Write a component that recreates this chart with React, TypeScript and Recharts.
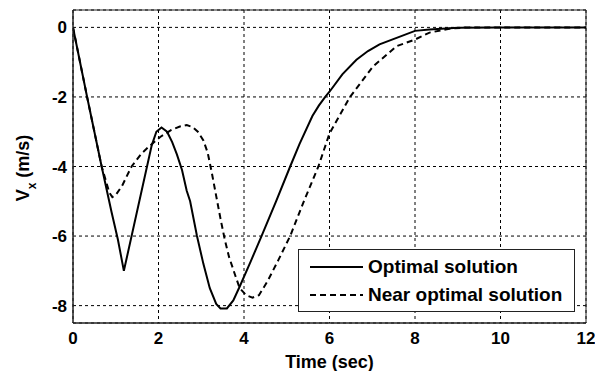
import React from 'react';
import { LineChart, Line, XAxis, YAxis, CartesianGrid, Legend, ReferenceArea, Label } from 'recharts';

const FONT = '"Liberation Sans", Arial, sans-serif';

const timeOptimal = [0, 0.33, 0.67, 0.9, 1.05, 1.19, 1.84, 1.95, 2.07, 2.2, 2.32, 2.43, 2.55, 2.66, 2.74, 2.9, 3.05, 3.2, 3.35, 3.45, 3.6, 3.75, 3.9, 4.15, 4.41, 4.75, 5.08, 5.3, 5.6, 5.75, 5.9, 6.0, 6.3, 6.63, 6.9, 7.17, 7.57, 8.0, 8.34, 9.0, 10, 12];
const vxOptimal = [0, -2, -4, -5.3, -6.1, -7.0, -3.4, -3.0, -2.88, -3.0, -3.3, -3.65, -4.1, -4.7, -5.0, -6.0, -6.8, -7.5, -7.95, -8.08, -8.08, -7.85, -7.45, -6.75, -6, -5, -4, -3.35, -2.55, -2.25, -2, -1.85, -1.35, -0.93, -0.68, -0.49, -0.3, -0.1, -0.06, -0.01, 0, 0];

const timeNear = [0, 0.33, 0.67, 0.85, 0.92, 1.0, 1.15, 1.37, 1.6, 1.8, 2.04, 2.3, 2.5, 2.66, 2.8, 2.92, 3.05, 3.15, 3.25, 3.35, 3.45, 3.55, 3.65, 3.8, 3.9, 4.05, 4.2, 4.35, 4.55, 4.8, 5.08, 5.4, 5.74, 6.0, 6.48, 7.02, 7.57, 8.0, 8.34, 8.8, 9.2, 12];
const vxNear = [0, -2, -4, -4.75, -4.88, -4.82, -4.55, -4.0, -3.63, -3.4, -3.15, -2.95, -2.85, -2.81, -2.87, -3.0, -3.25, -3.6, -4.2, -4.85, -5.5, -6.1, -6.6, -7.15, -7.5, -7.7, -7.77, -7.7, -7.3, -6.7, -6, -5, -4, -3.05, -2, -1.12, -0.54, -0.35, -0.15, -0.04, 0, 0];

const xTicks = [0, 2, 4, 6, 8, 10, 12];
const yTicks = [0, -2, -4, -6, -8];
const seriesNames = ['Optimal solution', 'Near optimal solution'];

const optimalData = timeOptimal.map((t, i) => ({ t, v: vxOptimal[i] }));
const nearData = timeNear.map((t, i) => ({ t, v: vxNear[i] }));

const tickStyle = { fontSize: 17, fontWeight: 'bold', fill: '#000', fontFamily: FONT };

const LegendBox = () => (
  <div
    style={{
      width: 277,
      height: 63,
      boxSizing: 'border-box',
      border: '1px solid #222',
      background: '#fff',
      paddingTop: 3,
      fontFamily: FONT,
      fontWeight: 'bold',
      fontSize: 19,
      color: '#000',
    }}
  >
    {seriesNames.map((name, i) => (
      <div key={name} style={{ height: 28, display: 'flex', alignItems: 'center' }}>
        <svg width={58} height={10} style={{ marginLeft: 11, flex: 'none' }}>
          <line
            x1={0}
            y1={5}
            x2={53}
            y2={5}
            stroke="#000"
            strokeWidth={2}
            strokeDasharray={i === 1 ? '6 4' : undefined}
          />
        </svg>
        <span style={{ whiteSpace: 'nowrap' }}>{name}</span>
      </div>
    ))}
  </div>
);

const YLabel = (props: any) => {
  const vb = props.viewBox || { x: 0, y: 10, width: 73, height: 313 };
  const cx = vb.x + 28.5;
  const cy = vb.y + vb.height / 2 + 1.5;
  return (
    <text
      transform={`translate(${cx},${cy}) rotate(-90)`}
      textAnchor="middle"
      fontFamily={FONT}
      fontWeight="bold"
      fontSize={18}
      fill="#000"
    >
      V
      <tspan fontSize={12} dy={7}>x</tspan>
      <tspan dy={-7}> (m/s)</tspan>
    </text>
  );
};

export default function App() {
  return (
    <div style={{ position: 'absolute', left: 0, top: 0, width: 595, height: 371, background: '#fff' }}>
      <LineChart width={595} height={371} margin={{ top: 10, right: 9, bottom: 0, left: 0 }}>
        <CartesianGrid stroke="#000" strokeDasharray="3 3" strokeWidth={1} />
        <XAxis
          dataKey="t"
          type="number"
          domain={[0, 12]}
          ticks={xTicks}
          allowDataOverflow
          height={48}
          tickLine={false}
          tickSize={0}
          tickMargin={9}
          axisLine={{ stroke: '#222' }}
          tick={tickStyle}
          interval={0}
        >
          <Label
            value="Time (sec)"
            position="insideBottom"
            offset={3}
            style={{ fontSize: 18, fontWeight: 'bold', fill: '#000', fontFamily: FONT }}
          />
        </XAxis>
        <YAxis
          dataKey="v"
          type="number"
          domain={[-8.5, 0.5]}
          ticks={yTicks}
          allowDataOverflow
          width={73}
          tickLine={false}
          tickSize={0}
          tickMargin={6}
          axisLine={{ stroke: '#222' }}
          tick={tickStyle}
          interval={0}
          label={<YLabel />}
        />
        <ReferenceArea x1={0} x2={12} y1={-8.5} y2={0.5} fill="none" stroke="#222" strokeWidth={1} ifOverflow="visible" />
        <Line
          data={optimalData}
          dataKey="v"
          name={seriesNames[0]}
          type="linear"
          stroke="#000"
          strokeWidth={2}
          dot={false}
          isAnimationActive={false}
        />
        <Line
          data={nearData}
          dataKey="v"
          name={seriesNames[1]}
          type="linear"
          stroke="#000"
          strokeWidth={2}
          strokeDasharray="6 4"
          dot={false}
          isAnimationActive={false}
        />
        <Legend
          layout="vertical"
          align="center"
          verticalAlign="middle"
          content={<LegendBox />}
          wrapperStyle={{ left: 298, top: 249, width: 277, height: 63, margin: 0, padding: 0 }}
        />
      </LineChart>
    </div>
  );
}
